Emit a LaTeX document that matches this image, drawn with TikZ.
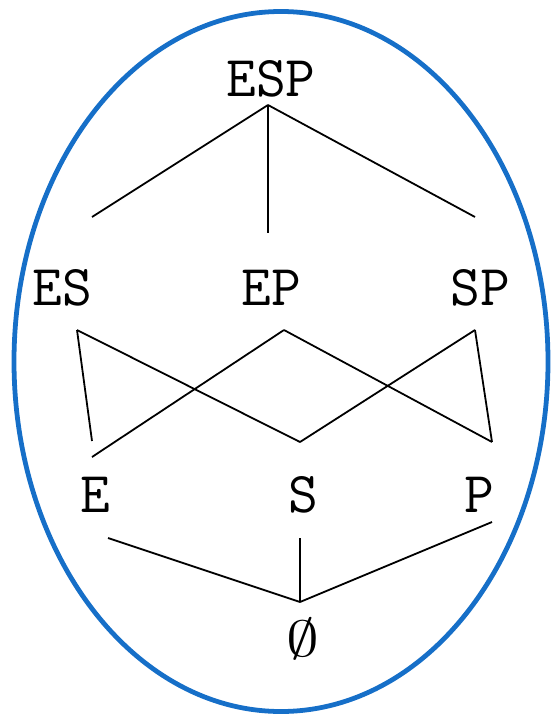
\documentclass[tikz,border=0pt]{standalone}
\usetikzlibrary{positioning}
\definecolor{ringblue}{RGB}{22,111,200}
\tikzset{set node/.style={font=\ttfamily\fontsize{58}{58}\selectfont,inner sep=0pt,anchor=base},
	hasse/.style={draw,line width=1.8pt},
}

\begin{document}
\begin{tikzpicture}[x=1bp,y=-1bp]
	\useasboundingbox (0,0) rectangle (551,717);
	\draw[ringblue,line width=4.8pt] (281,361.5) ellipse [x radius=267,y radius=350];
	
	\node[set node] (esp) at (271,97){ESP};
	\node[set node] (es) at (62,305){ES};
	\node[set node] (ep) at (271,305){EP};
	\node[set node] (sp) at (480,305){SP};
	\node[set node] (e) at (95,512){E};
	\node[set node] (s) at (303,512){S};
	\node[set node] (p) at (479,512){P};
	\node[set node,font=\normalsize] (empty) at (303,656){\scalebox{6.6}[5.1]{$\emptyset$}};
	
	\coordinate (esp top) at (268,105);
	\coordinate (es up) at (92,217);
	\coordinate (ep up) at (268,233);
	\coordinate (sp up) at (475,217);
	\coordinate (es low) at (77,330);
	\coordinate (ep low) at (284,330);
	\coordinate (sp low) at (475,330);
	\coordinate (e up1) at (92,441);
	\coordinate (e up2) at (92,457);
	\coordinate (s up) at (300,442);
	\coordinate (p up) at (492,442);
	\coordinate (e low) at (108,538);
	\coordinate (s low) at (300,538);
	\coordinate (p low) at (492,522);
	\coordinate (empty top) at (300,602);
	
	\path[hasse]
	(esp top) edge (es up)
	(esp top) edge (ep up)
	(esp top) edge (sp up)
	(es low) edge (e up1)
	(es low) edge (s up)
	(ep low) edge (e up2)
	(ep low) edge (p up)
	(sp low) edge (s up)
	(sp low) edge (p up)
	(e low) edge (empty top)
	(s low) edge (empty top)
	(p low) edge (empty top);
\end{tikzpicture}
\end{document}
